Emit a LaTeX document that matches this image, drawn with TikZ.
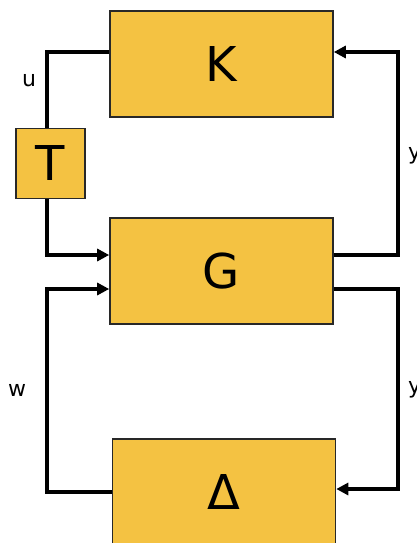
\documentclass[tikz,border=0pt]{standalone}
\usepackage{fontspec}
\setmainfont{DejaVu Sans}
\usetikzlibrary{arrows.meta}
\definecolor{boxfill}{RGB}{244,194,66}
\definecolor{boxline}{RGB}{40,40,40}
\tikzset{
  blk/.style={draw=boxline, line width=1.6pt, fill=boxfill, minimum width=223pt, minimum height=106pt, inner sep=0pt, font=\fontsize{48}{48}\selectfont},
  tblk/.style={draw=boxline, line width=1.6pt, fill=boxfill, minimum width=69pt, minimum height=70pt, inner sep=0pt, font=\fontsize{48}{48}\selectfont},
  wire/.style={line width=3.2pt, line join=miter},
  arr/.style={wire, -{Triangle[length=12pt,width=12pt]}},
  lbl/.style={font=\fontsize{22}{22}\selectfont, inner sep=0pt}
}
\begin{document}
\begin{tikzpicture}[x=1pt,y=-1pt]
\useasboundingbox (0,0) rectangle (417,543);
\node[blk] (K) at (221.5,64) {K};
\node[tblk] (T) at (50.5,163.5) {T};
\node[blk] (G) at (221.5,271) {G};
\node[blk] (D) at (224,492) {Δ};
% coordinates
\coordinate (ul) at (47,52);
\coordinate (tl) at (47,255);
\coordinate (wl) at (47,492);
\coordinate (wt) at (47,289);
\coordinate (yr1) at (398,255);
\coordinate (yr1t) at (398,52);
\coordinate (yr2) at (398,289);
\coordinate (yr2b) at (398,489);
% u path
\draw[wire] (K.west |- ul) -- (ul) -- (ul |- T.north);
\draw[arr] (ul |- T.south) -- (tl) -- (G.west |- tl);
% w path
\draw[arr] (D.west |- wl) -- (wl) -- (wt) -- (G.west |- wt);
% y paths
\draw[arr] (G.east |- yr1) -- (yr1) -- (yr1t) -- (K.east |- yr1t);
\draw[arr] (G.east |- yr2) -- (yr2) -- (yr2b) -- (D.east |- yr2b);
% labels
\node[lbl] (lu) at (29,80) {u};
\node[lbl] (lw) at (17,390) {w};
\node[lbl,anchor=west] (ly1) at (408,156) {y};
\node[lbl,anchor=west] (ly2) at (408,390) {y};
\end{tikzpicture}
\end{document}
